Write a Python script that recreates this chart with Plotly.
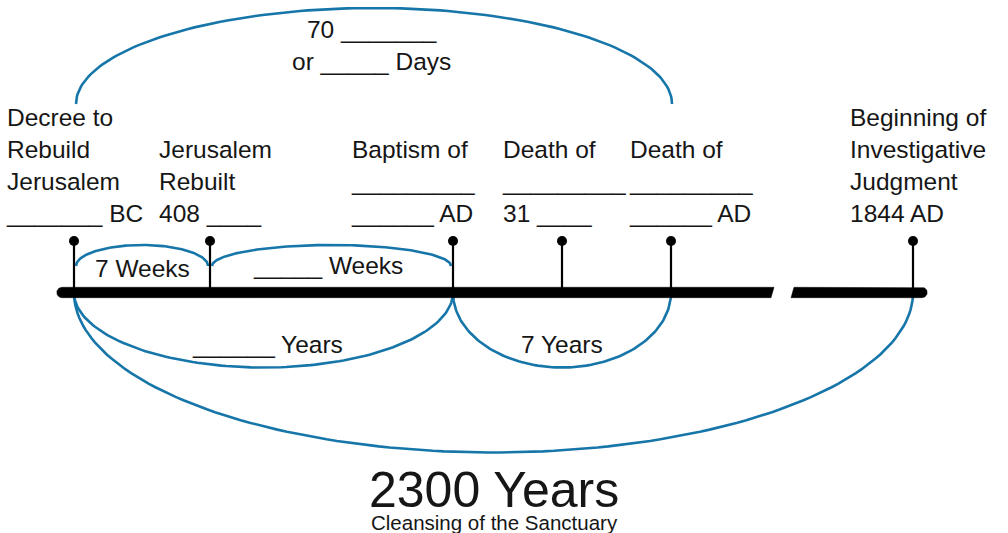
import numpy as np
import plotly.graph_objects as go

# ---- content ----
event_labels = [
    "Decree to<br>Rebuild<br>Jerusalem<br>_______ BC",
    "Jerusalem<br>Rebuilt<br>408 ____",
    "Baptism of<br>_________<br>______ AD",
    "Death of<br>_________<br>31 ____",
    "Death of<br>_________<br>______ AD",
    "Beginning of<br>Investigative<br>Judgment<br>1844 AD",
]
upper_spans = [(0, 1, "7 Weeks"), (1, 2, "_____ Weeks")]
lower_spans = [(0, 2, "______ Years"), (2, 4, "7 Years")]
top_span = (0, 4, "70 _______<br>or _____ Days")
total_span = (0, 5)
title_text = "2300 Years"
subtitle_text = "Cleansing of the Sanctuary"

# ---- layout (pixel space) ----
W, H = 1008, 533
event_x = [74, 210, 453, 562, 671, 913]
label_left = [4, 157, 349, 500, 627, 848]
line_y = 292.5
dot_y = 241
blue = "#1776a9"
ink = "#161616"
font = "Liberation Sans"

fig = go.Figure()


def half_ellipse(x0, x1, cy, ry, up):
    t = np.linspace(0, np.pi, 120)
    cx, rx = (x0 + x1) / 2, (x1 - x0) / 2
    xs = cx - rx * np.cos(t)
    ys = cy - ry * np.sin(t) if up else cy + ry * np.sin(t)
    return xs, ys


def add_arc(x0, x1, cy, ry, up):
    xs, ys = half_ellipse(x0, x1, cy, ry, up)
    fig.add_trace(go.Scatter(x=xs, y=ys, mode="lines",
                             line=dict(color=blue, width=2.6),
                             hoverinfo="skip", showlegend=False))


# upper small arcs
for a, b, txt in upper_spans:
    add_arc(event_x[a] + 2, event_x[b] - 2, 266, 21, True)
# lower arcs
for a, b, txt in lower_spans:
    add_arc(event_x[a], event_x[b], line_y, 75, False)
add_arc(event_x[total_span[0]], event_x[total_span[1]], line_y, 160, False)
# top arc
add_arc(event_x[top_span[0]] + 2, event_x[top_span[1]] + 1, 104, 96, True)

# stems
for x in event_x:
    fig.add_trace(go.Scatter(x=[x, x], y=[dot_y, line_y], mode="lines",
                             line=dict(color="black", width=2.2),
                             hoverinfo="skip", showlegend=False))

# main bar: rounded outer ends, slanted break in the middle
h = 5.2
top, bot = line_y - h, line_y + h
tl = np.linspace(np.pi / 2, 3 * np.pi / 2, 24)          # left cap, top -> bottom
tr = np.linspace(np.pi / 2, -np.pi / 2, 24)             # right cap, top -> bottom
left_x = [62] + list(62 + h * np.cos(tl)) + [771, 774, 62]
left_y = [top] + list(line_y - h * np.sin(tl)) + [bot, top, top]
right_x = [794] + list(922 + h * np.cos(tr)) + [791, 794]
right_y = [top] + list(line_y - h * np.sin(tr)) + [bot, top]
for px, py in ((left_x, left_y), (right_x, right_y)):
    fig.add_trace(go.Scatter(x=px, y=py, mode="lines", fill="toself",
                             fillcolor="black", line=dict(color="black", width=0.5),
                             hoverinfo="skip", showlegend=False))

# dots
fig.add_trace(go.Scatter(x=event_x, y=[dot_y] * len(event_x), mode="markers",
                         marker=dict(color="black", size=10),
                         hoverinfo="skip", showlegend=False))

ann = []
for xl, txt in zip(label_left, event_labels):
    ann.append(dict(x=xl, y=229, text=txt, xanchor="left", yanchor="bottom",
                    align="left", showarrow=False,
                    font=dict(family=font, size=24.5, color=ink)))
ann.append(dict(x=142, y=268, text=upper_spans[0][2], showarrow=False,
                font=dict(family=font, size=24.5, color=ink)))
ann.append(dict(x=328, y=265, text=upper_spans[1][2], showarrow=False,
                font=dict(family=font, size=24.5, color=ink)))
ann.append(dict(x=267, y=344, text=lower_spans[0][2], showarrow=False,
                font=dict(family=font, size=24.5, color=ink)))
ann.append(dict(x=562, y=344, text=lower_spans[1][2], showarrow=False,
                font=dict(family=font, size=24.5, color=ink)))
ann.append(dict(x=371, y=45, text=top_span[2], showarrow=False, align="center",
                font=dict(family=font, size=24.5, color=ink)))
ann.append(dict(x=494, y=490, text=title_text, showarrow=False,
                font=dict(family=font, size=50, color=ink)))
ann.append(dict(x=494, y=522, text=subtitle_text, showarrow=False,
                font=dict(family=font, size=20.5, color=ink)))

fig.update_layout(
    width=W, height=H, margin=dict(l=0, r=0, t=0, b=0),
    paper_bgcolor="white", plot_bgcolor="white",
    xaxis=dict(range=[0, W], visible=False, fixedrange=True),
    yaxis=dict(range=[H, 0], visible=False, fixedrange=True),
    annotations=ann, showlegend=False,
)
fig.write_html("out.html", config={"displayModeBar": False},
               post_script="document.body.style.margin='0';document.body.style.overflow='hidden';")
